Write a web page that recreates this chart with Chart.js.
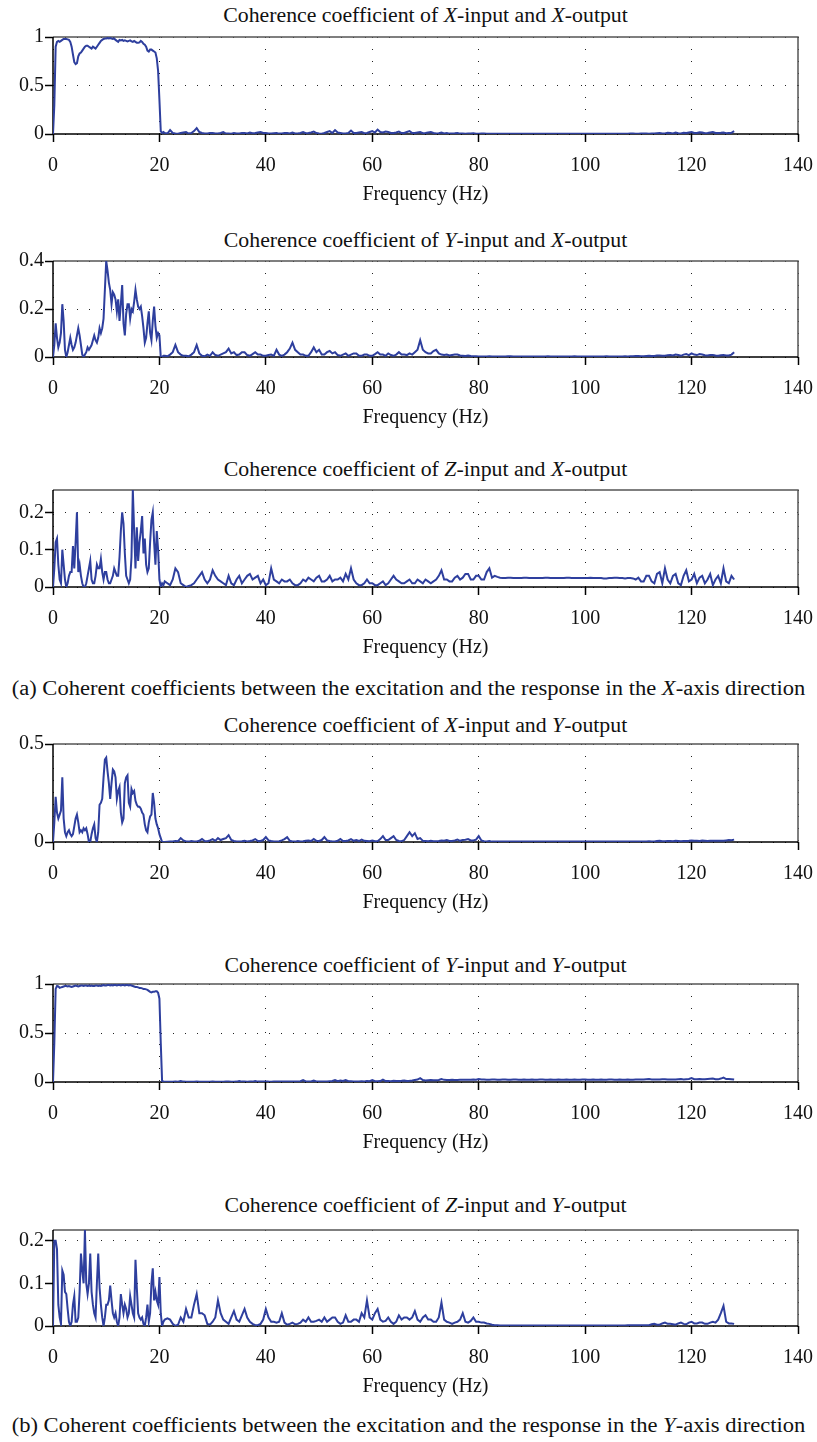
<!DOCTYPE html>
<html>
<head>
<meta charset="utf-8">
<script src="https://cdn.jsdelivr.net/npm/chart.js@4.4.1/dist/chart.umd.min.js"></script>
<style>
  body { margin: 0; background: #fff; }
  #page { position: relative; width: 817px; height: 1442px; overflow: hidden; font-family: "Liberation Serif", "DejaVu Serif", serif; color: #111; }
  canvas { position: absolute; left: 0; }
  .title { position: absolute; left: 53px; width: 745px; text-align: center; font-size: 20px; line-height: 24px; white-space: nowrap; transform: scaleX(1.09); transform-origin: 50% 50%; }
  .caption { position: absolute; left: 0; width: 817px; text-align: center; font-size: 20.5px; line-height: 24px; white-space: nowrap; transform: scaleX(1.1); transform-origin: 50% 50%; }
</style>
</head>
<body>
<div id="page"></div>
<script>
// frequency bins (Hz): 0.25 Hz below 21 Hz, 0.5 Hz above
const freqLow = [0, 0.25, 0.5, 0.75, 1, 1.25, 1.5, 1.75, 2, 2.25, 2.5, 2.75, 3, 3.25, 3.5, 3.75,
    4, 4.25, 4.5, 4.75, 5, 5.25, 5.5, 5.75, 6, 6.25, 6.5, 6.75, 7, 7.25, 7.5, 7.75,
    8, 8.25, 8.5, 8.75, 9, 9.25, 9.5, 9.75, 10, 10.25, 10.5, 10.75, 11, 11.25, 11.5, 11.75,
    12, 12.25, 12.5, 12.75, 13, 13.25, 13.5, 13.75, 14, 14.25, 14.5, 14.75, 15, 15.25, 15.5, 15.75,
    16, 16.25, 16.5, 16.75, 17, 17.25, 17.5, 17.75, 18, 18.25, 18.5, 18.75, 19, 19.25, 19.5, 19.75,
    20, 20.25, 20.5, 20.75];
const freqHigh = [21, 21.5, 22, 22.5, 23, 23.5, 24, 24.5, 25, 25.5, 26, 26.5, 27, 27.5, 28, 28.5, 29, 29.5, 30, 30.5,
    31, 31.5, 32, 32.5, 33, 33.5, 34, 34.5, 35, 35.5, 36, 36.5, 37, 37.5, 38, 38.5, 39, 39.5, 40, 40.5,
    41, 41.5, 42, 42.5, 43, 43.5, 44, 44.5, 45, 45.5, 46, 46.5, 47, 47.5, 48, 48.5, 49, 49.5, 50, 50.5,
    51, 51.5, 52, 52.5, 53, 53.5, 54, 54.5, 55, 55.5, 56, 56.5, 57, 57.5, 58, 58.5, 59, 59.5, 60, 60.5,
    61, 61.5, 62, 62.5, 63, 63.5, 64, 64.5, 65, 65.5, 66, 66.5, 67, 67.5, 68, 68.5, 69, 69.5, 70, 70.5,
    71, 71.5, 72, 72.5, 73, 73.5, 74, 74.5, 75, 75.5, 76, 76.5, 77, 77.5, 78, 78.5, 79, 79.5, 80, 80.5,
    81, 81.5, 82, 82.5, 83, 83.5, 84, 84.5, 85, 85.5, 86, 86.5, 87, 87.5, 88, 88.5, 89, 89.5, 90, 90.5,
    91, 91.5, 92, 92.5, 93, 93.5, 94, 94.5, 95, 95.5, 96, 96.5, 97, 97.5, 98, 98.5, 99, 99.5, 100, 100.5,
    101, 101.5, 102, 102.5, 103, 103.5, 104, 104.5, 105, 105.5, 106, 106.5, 107, 107.5, 108, 108.5, 109, 109.5, 110, 110.5,
    111, 111.5, 112, 112.5, 113, 113.5, 114, 114.5, 115, 115.5, 116, 116.5, 117, 117.5, 118, 118.5, 119, 119.5, 120, 120.5,
    121, 121.5, 122, 122.5, 123, 123.5, 124, 124.5, 125, 125.5, 126, 126.5, 127, 127.5, 128];

const xTicks = [0, 20, 40, 60, 80, 100, 120, 140];

// X-input / X-output
const xxLow = [0, 0.3, 0.9, 0.95, 0.96, 0.95, 0.96, 0.97,
    0.98, 0.98, 0.98, 0.975, 0.97, 0.95, 0.9, 0.82,
    0.74, 0.72, 0.73, 0.8, 0.83, 0.84, 0.86, 0.88,
    0.9, 0.91, 0.91, 0.9, 0.89, 0.88, 0.9, 0.89,
    0.88, 0.9, 0.92, 0.94, 0.96, 0.97, 0.98, 0.985,
    0.985, 0.99, 0.985, 0.99, 0.985, 0.98, 0.985, 0.97,
    0.96, 0.95, 0.97, 0.965, 0.97, 0.96, 0.965, 0.96,
    0.955, 0.96, 0.965, 0.955, 0.95, 0.96, 0.95, 0.94,
    0.94, 0.945, 0.96, 0.95, 0.93, 0.92, 0.9, 0.86,
    0.85, 0.87, 0.87, 0.86, 0.85, 0.84, 0.78, 0.65,
    0.35, 0.03, 0.01, 0.02];
const xxHigh = [0.01, 0.005, 0.04, 0.01, 0.005, 0.003, 0.01, 0.015, 0.02, 0.005, 0.01, 0.03, 0.06, 0.02, 0.01, 0.005, 0.005, 0.01, 0.01, 0.005,
    0.005, 0.01, 0.02, 0.005, 0.005, 0.003, 0.01, 0.005, 0.005, 0.01, 0.01, 0.005, 0.015, 0.008, 0.01, 0.015, 0.02, 0.01, 0.01, 0.005,
    0.005, 0.008, 0.01, 0.004, 0.005, 0.01, 0.01, 0.006, 0.015, 0.005, 0.005, 0.01, 0.02, 0.008, 0.01, 0.015, 0.025, 0.01, 0.005, 0.003,
    0.01, 0.02, 0.03, 0.01, 0.04, 0.015, 0.01, 0.005, 0.005, 0.01, 0.035, 0.01, 0.01, 0.015, 0.02, 0.008, 0.01, 0.02, 0.03, 0.015,
    0.045, 0.02, 0.015, 0.025, 0.02, 0.01, 0.01, 0.015, 0.025, 0.01, 0.01, 0.02, 0.03, 0.01, 0.01, 0.015, 0.02, 0.008, 0.01, 0.015,
    0.02, 0.01, 0.005, 0.008, 0.015, 0.006, 0.01, 0.004, 0.005, 0.007, 0.01, 0.004, 0.005, 0.003, 0.005, 0.004, 0.008, 0.003, 0.003, 0.004,
    0.005, 0.003, 0.003, 0.002, 0.002, 0.003, 0.003, 0.002, 0.002, 0.003, 0.003, 0.002, 0.002, 0.002, 0.002, 0.003, 0.003, 0.002, 0.002, 0.002,
    0.002, 0.003, 0.003, 0.002, 0.002, 0.002, 0.002, 0.003, 0.003, 0.002, 0.002, 0.002, 0.002, 0.003, 0.003, 0.002, 0.002, 0.002, 0.002, 0.003,
    0.003, 0.002, 0.002, 0.002, 0.002, 0.003, 0.003, 0.002, 0.002, 0.003, 0.003, 0.002, 0.002, 0.003, 0.003, 0.004, 0.004, 0.003, 0.003, 0.004,
    0.004, 0.005, 0.003, 0.006, 0.005, 0.008, 0.01, 0.006, 0.005, 0.012, 0.01, 0.006, 0.015, 0.008, 0.005, 0.012, 0.01, 0.015, 0.02, 0.01,
    0.01, 0.018, 0.015, 0.008, 0.01, 0.015, 0.02, 0.01, 0.01, 0.012, 0.015, 0.008, 0.01, 0.012, 0.03];

// Y-input / X-output
const yxLow = [0, 0.05, 0.14, 0.08, 0.04, 0.06, 0.1, 0.22,
    0.15, 0.03, 0.0, 0.02, 0.05, 0.08, 0.05, 0.03,
    0.04, 0.06, 0.09, 0.12, 0.09, 0.05, 0.01, 0.0,
    0.01, 0.02, 0.04, 0.03, 0.04, 0.05, 0.07, 0.09,
    0.07, 0.06, 0.08, 0.12, 0.1, 0.12, 0.16, 0.28,
    0.4, 0.36, 0.31, 0.28, 0.22, 0.27, 0.26, 0.24,
    0.19, 0.24, 0.15, 0.22, 0.3, 0.14, 0.09, 0.18,
    0.22, 0.22, 0.16, 0.2, 0.19, 0.23, 0.28, 0.24,
    0.21, 0.2, 0.21, 0.17, 0.12, 0.06, 0.08, 0.14,
    0.19, 0.1, 0.07, 0.15, 0.21, 0.13, 0.08, 0.1,
    0.09, 0.0, 0.0, 0.005];
const yxHigh = [0.005, 0.003, 0.01, 0.02, 0.05, 0.02, 0.01, 0.005, 0.005, 0.003, 0.01, 0.02, 0.05, 0.015, 0.005, 0.003, 0.01, 0.005, 0.02, 0.008,
    0.005, 0.01, 0.015, 0.02, 0.035, 0.015, 0.02, 0.008, 0.01, 0.02, 0.02, 0.008, 0.005, 0.012, 0.02, 0.01, 0.01, 0.005, 0.005, 0.008,
    0.01, 0.005, 0.03, 0.01, 0.005, 0.01, 0.02, 0.035, 0.06, 0.03, 0.02, 0.01, 0.01, 0.005, 0.005, 0.02, 0.04, 0.02, 0.03, 0.01,
    0.01, 0.02, 0.025, 0.015, 0.02, 0.008, 0.005, 0.01, 0.015, 0.005, 0.01, 0.015, 0.015, 0.005, 0.005, 0.01, 0.01, 0.005, 0.005, 0.012,
    0.02, 0.01, 0.01, 0.005, 0.015, 0.008, 0.005, 0.01, 0.02, 0.01, 0.01, 0.008, 0.015, 0.01, 0.02, 0.03, 0.07, 0.03, 0.02, 0.015,
    0.015, 0.025, 0.03, 0.015, 0.01, 0.008, 0.01, 0.006, 0.008, 0.01, 0.01, 0.006, 0.005, 0.004, 0.006, 0.004, 0.003, 0.003, 0.002, 0.002,
    0.002, 0.002, 0.003, 0.002, 0.002, 0.002, 0.002, 0.002, 0.002, 0.003, 0.003, 0.002, 0.002, 0.002, 0.002, 0.002, 0.002, 0.002, 0.002, 0.002,
    0.002, 0.002, 0.002, 0.002, 0.003, 0.002, 0.002, 0.002, 0.002, 0.002, 0.002, 0.002, 0.002, 0.002, 0.003, 0.002, 0.002, 0.002, 0.002, 0.002,
    0.002, 0.002, 0.002, 0.002, 0.002, 0.002, 0.003, 0.002, 0.002, 0.002, 0.002, 0.002, 0.002, 0.003, 0.002, 0.003, 0.003, 0.004, 0.004, 0.003,
    0.003, 0.004, 0.005, 0.004, 0.004, 0.006, 0.006, 0.005, 0.005, 0.007, 0.008, 0.006, 0.01, 0.008, 0.005, 0.01, 0.012, 0.008, 0.015, 0.01,
    0.008, 0.012, 0.01, 0.007, 0.006, 0.008, 0.008, 0.006, 0.005, 0.007, 0.008, 0.006, 0.006, 0.01, 0.02];

// Z-input / X-output
const zxLow = [0, 0.05, 0.12, 0.13, 0.06, 0.02, 0.01, 0.1,
    0.06, 0.02, 0.0, 0.01, 0.03, 0.04, 0.04, 0.11,
    0.05, 0.12, 0.2, 0.04, 0.06, 0.03, 0.01, 0.0,
    0.0, 0.01, 0.03, 0.05, 0.07, 0.02, 0.01, 0.01,
    0.03, 0.06, 0.05, 0.05, 0.075, 0.04, 0.02, 0.04,
    0.04, 0.02, 0.01, 0.01, 0.02, 0.03, 0.05, 0.04,
    0.03, 0.03, 0.08, 0.15, 0.2, 0.17, 0.09, 0.03,
    0.02, 0.01, 0.02, 0.08, 0.26, 0.15, 0.05, 0.16,
    0.07, 0.12, 0.15, 0.19, 0.09, 0.13, 0.06, 0.04,
    0.05, 0.12, 0.18, 0.2, 0.12, 0.06, 0.15, 0.1,
    0.02, 0.0, 0.01, 0.005];
const zxHigh = [0.015, 0.01, 0.005, 0.02, 0.05, 0.04, 0.01, 0.005, 0.0, 0.003, 0.005, 0.01, 0.02, 0.03, 0.04, 0.02, 0.01, 0.02, 0.045, 0.03,
    0.02, 0.015, 0.01, 0.005, 0.03, 0.01, 0.005, 0.02, 0.03, 0.01, 0.02, 0.03, 0.035, 0.02, 0.025, 0.03, 0.01, 0.02, 0.005, 0.01,
    0.05, 0.02, 0.015, 0.01, 0.02, 0.015, 0.015, 0.02, 0.01, 0.005, 0.005, 0.01, 0.02, 0.015, 0.025, 0.02, 0.015, 0.025, 0.03, 0.015,
    0.015, 0.02, 0.03, 0.015, 0.02, 0.02, 0.025, 0.015, 0.035, 0.02, 0.05, 0.02, 0.01, 0.005, 0.005, 0.01, 0.02, 0.01, 0.01, 0.005,
    0.005, 0.01, 0.015, 0.005, 0.01, 0.02, 0.03, 0.02, 0.015, 0.01, 0.01, 0.015, 0.02, 0.01, 0.01, 0.02, 0.015, 0.01, 0.02, 0.015,
    0.01, 0.015, 0.02, 0.03, 0.045, 0.02, 0.02, 0.015, 0.015, 0.025, 0.03, 0.02, 0.025, 0.035, 0.035, 0.02, 0.02, 0.03, 0.03, 0.02,
    0.02, 0.04, 0.05, 0.025, 0.03, 0.027, 0.025, 0.024, 0.024, 0.025, 0.025, 0.024, 0.024, 0.024, 0.024, 0.025, 0.025, 0.024, 0.024, 0.024,
    0.024, 0.024, 0.024, 0.025, 0.025, 0.024, 0.024, 0.024, 0.024, 0.024, 0.024, 0.025, 0.025, 0.024, 0.024, 0.024, 0.024, 0.024, 0.024, 0.024,
    0.025, 0.024, 0.024, 0.024, 0.024, 0.023, 0.023, 0.024, 0.024, 0.025, 0.025, 0.024, 0.024, 0.023, 0.024, 0.024, 0.023, 0.02, 0.025, 0.015,
    0.015, 0.03, 0.03, 0.015, 0.01, 0.035, 0.04, 0.01, 0.05, 0.02, 0.01, 0.03, 0.035, 0.01, 0.005, 0.03, 0.045, 0.015, 0.02, 0.035,
    0.01, 0.025, 0.03, 0.01, 0.02, 0.035, 0.005, 0.02, 0.03, 0.01, 0.05, 0.015, 0.01, 0.03, 0.02];

// X-input / Y-output
const xyLow = [0, 0.1, 0.23, 0.15, 0.12, 0.14, 0.16, 0.33,
    0.12, 0.05, 0.03, 0.05, 0.06, 0.04, 0.03, 0.04,
    0.08, 0.12, 0.14, 0.1, 0.05, 0.06, 0.05, 0.07,
    0.06, 0.07, 0.04, 0.0, 0.0, 0.04, 0.07, 0.09,
    0.02, 0.0, 0.05, 0.19, 0.2, 0.22, 0.33, 0.42,
    0.43, 0.36, 0.3, 0.22, 0.3, 0.37, 0.36, 0.33,
    0.22, 0.26, 0.28, 0.15, 0.1, 0.12, 0.3, 0.33,
    0.34, 0.2, 0.18, 0.27, 0.25, 0.26, 0.21, 0.19,
    0.18, 0.18, 0.17, 0.15, 0.14, 0.09, 0.06, 0.05,
    0.1, 0.13, 0.14, 0.25, 0.2, 0.12, 0.09, 0.07,
    0.04, 0.02, 0.0, 0.0];
const xyHigh = [0.0, 0.001, 0.002, 0.003, 0.005, 0.004, 0.02, 0.008, 0.003, 0.002, 0.005, 0.003, 0.003, 0.006, 0.015, 0.005, 0.004, 0.008, 0.015, 0.006,
    0.02, 0.01, 0.015, 0.02, 0.035, 0.01, 0.005, 0.003, 0.003, 0.004, 0.006, 0.003, 0.005, 0.008, 0.015, 0.005, 0.005, 0.01, 0.025, 0.008,
    0.005, 0.003, 0.003, 0.004, 0.008, 0.015, 0.025, 0.006, 0.003, 0.002, 0.005, 0.003, 0.004, 0.006, 0.008, 0.005, 0.015, 0.006, 0.005, 0.01,
    0.025, 0.008, 0.005, 0.003, 0.003, 0.006, 0.015, 0.005, 0.005, 0.008, 0.015, 0.006, 0.01, 0.005, 0.012, 0.006, 0.005, 0.004, 0.008, 0.004,
    0.004, 0.015, 0.03, 0.01, 0.01, 0.02, 0.03, 0.01, 0.005, 0.004, 0.01, 0.03, 0.05, 0.03, 0.045, 0.015, 0.02, 0.006, 0.005, 0.004,
    0.006, 0.004, 0.004, 0.005, 0.008, 0.006, 0.01, 0.005, 0.005, 0.008, 0.012, 0.006, 0.01, 0.012, 0.015, 0.008, 0.008, 0.012, 0.03, 0.008,
    0.004, 0.003, 0.005, 0.002, 0.002, 0.002, 0.002, 0.002, 0.002, 0.002, 0.002, 0.003, 0.003, 0.002, 0.002, 0.002, 0.002, 0.002, 0.002, 0.002,
    0.002, 0.002, 0.002, 0.002, 0.002, 0.002, 0.002, 0.002, 0.002, 0.002, 0.002, 0.002, 0.002, 0.002, 0.002, 0.002, 0.002, 0.002, 0.002, 0.002,
    0.002, 0.002, 0.002, 0.002, 0.002, 0.002, 0.002, 0.002, 0.002, 0.002, 0.002, 0.002, 0.002, 0.002, 0.002, 0.002, 0.002, 0.002, 0.002, 0.003,
    0.003, 0.003, 0.004, 0.003, 0.003, 0.005, 0.006, 0.004, 0.004, 0.005, 0.005, 0.004, 0.006, 0.005, 0.004, 0.005, 0.005, 0.006, 0.008, 0.006,
    0.006, 0.005, 0.007, 0.006, 0.005, 0.006, 0.006, 0.007, 0.007, 0.006, 0.006, 0.008, 0.01, 0.009, 0.012];

// Y-input / Y-output
const yyLow = [0, 0.4, 0.95, 0.98, 0.975, 0.96, 0.965, 0.97,
    0.975, 0.98, 0.98, 0.975, 0.98, 0.975, 0.97, 0.975,
    0.98, 0.985, 0.98, 0.975, 0.98, 0.985, 0.985, 0.98,
    0.985, 0.985, 0.98, 0.985, 0.98, 0.985, 0.98, 0.98,
    0.985, 0.985, 0.98, 0.985, 0.98, 0.985, 0.99, 0.985,
    0.985, 0.99, 0.99, 0.985, 0.99, 0.985, 0.99, 0.99,
    0.985, 0.99, 0.99, 0.985, 0.99, 0.99, 0.985, 0.99,
    0.99, 0.985, 0.99, 0.985, 0.98, 0.975, 0.97, 0.97,
    0.965, 0.96, 0.96, 0.955, 0.95, 0.95, 0.945, 0.94,
    0.93, 0.92, 0.915, 0.92, 0.92, 0.925, 0.925, 0.91,
    0.85, 0.4, 0.01, 0.005];
const yyHigh = [0.003, 0.002, 0.002, 0.003, 0.004, 0.003, 0.01, 0.004, 0.003, 0.002, 0.002, 0.003, 0.004, 0.002, 0.003, 0.002, 0.002, 0.003, 0.004, 0.003,
    0.003, 0.002, 0.003, 0.004, 0.005, 0.003, 0.003, 0.004, 0.01, 0.004, 0.004, 0.003, 0.005, 0.004, 0.01, 0.004, 0.004, 0.005, 0.006, 0.004,
    0.003, 0.004, 0.005, 0.004, 0.004, 0.005, 0.005, 0.004, 0.006, 0.005, 0.005, 0.008, 0.02, 0.006, 0.006, 0.005, 0.015, 0.006, 0.005, 0.006,
    0.006, 0.005, 0.008, 0.01, 0.02, 0.008, 0.015, 0.01, 0.02, 0.008, 0.008, 0.006, 0.006, 0.005, 0.008, 0.006, 0.01, 0.008, 0.02, 0.008,
    0.008, 0.01, 0.025, 0.01, 0.01, 0.008, 0.012, 0.01, 0.01, 0.012, 0.015, 0.01, 0.012, 0.015, 0.02, 0.025, 0.04, 0.02, 0.015, 0.018,
    0.02, 0.018, 0.018, 0.02, 0.03, 0.022, 0.02, 0.021, 0.022, 0.02, 0.02, 0.022, 0.024, 0.022, 0.022, 0.024, 0.025, 0.024, 0.03, 0.025,
    0.025, 0.024, 0.024, 0.025, 0.026, 0.024, 0.024, 0.025, 0.025, 0.024, 0.024, 0.025, 0.025, 0.024, 0.024, 0.025, 0.024, 0.024, 0.025, 0.024,
    0.024, 0.025, 0.025, 0.024, 0.024, 0.025, 0.024, 0.024, 0.025, 0.024, 0.024, 0.025, 0.024, 0.024, 0.025, 0.024, 0.024, 0.025, 0.025, 0.024,
    0.024, 0.025, 0.024, 0.024, 0.025, 0.024, 0.024, 0.025, 0.025, 0.024, 0.024, 0.025, 0.024, 0.024, 0.025, 0.024, 0.024, 0.025, 0.025, 0.026,
    0.026, 0.028, 0.03, 0.026, 0.026, 0.025, 0.025, 0.027, 0.028, 0.025, 0.025, 0.026, 0.026, 0.028, 0.03, 0.026, 0.028, 0.03, 0.04, 0.028,
    0.027, 0.03, 0.028, 0.027, 0.03, 0.033, 0.035, 0.028, 0.027, 0.035, 0.045, 0.03, 0.03, 0.028, 0.025];

// Z-input / Y-output
const zyLow = [0.0, 0.2, 0.2, 0.18, 0.05, 0.02, 0.005, 0.13,
    0.12, 0.08, 0.075, 0.04, 0.01, 0.0, 0.01, 0.05,
    0.07, 0.01, 0.01, 0.02, 0.08, 0.17, 0.13, 0.1,
    0.225, 0.1, 0.075, 0.1, 0.17, 0.08, 0.05, 0.03,
    0.02, 0.1, 0.17, 0.09, 0.05, 0.02, 0.0, 0.02,
    0.05, 0.05, 0.06, 0.095, 0.06, 0.03, 0.02, 0.03,
    0.01, 0.0, 0.02, 0.075, 0.05, 0.03, 0.05, 0.04,
    0.02, 0.03, 0.07, 0.05, 0.03, 0.02, 0.155, 0.09,
    0.03, 0.02, 0.015, 0.02, 0.005, 0.0, 0.02, 0.05,
    0.01, 0.03, 0.1, 0.135, 0.06, 0.08, 0.06, 0.05,
    0.115, 0.03, 0.0, 0.01];
const zyHigh = [0.015, 0.018, 0.015, 0.005, 0.0, 0.003, 0.02, 0.01, 0.04, 0.02, 0.02, 0.05, 0.075, 0.03, 0.03, 0.025, 0.005, 0.003, 0.01, 0.02,
    0.06, 0.03, 0.015, 0.01, 0.005, 0.02, 0.035, 0.015, 0.01, 0.025, 0.04, 0.02, 0.01, 0.005, 0.002, 0.002, 0.005, 0.015, 0.04, 0.02,
    0.01, 0.01, 0.008, 0.01, 0.03, 0.008, 0.003, 0.005, 0.008, 0.004, 0.005, 0.008, 0.015, 0.01, 0.02, 0.01, 0.01, 0.012, 0.015, 0.01,
    0.02, 0.01, 0.015, 0.02, 0.02, 0.01, 0.005, 0.008, 0.025, 0.01, 0.01, 0.015, 0.015, 0.01, 0.03, 0.02, 0.06, 0.02, 0.015, 0.03,
    0.04, 0.015, 0.01, 0.012, 0.02, 0.01, 0.005, 0.01, 0.025, 0.015, 0.02, 0.02, 0.015, 0.02, 0.035, 0.015, 0.01, 0.02, 0.025, 0.015,
    0.015, 0.01, 0.01, 0.02, 0.055, 0.015, 0.01, 0.008, 0.005, 0.008, 0.01, 0.015, 0.03, 0.01, 0.008, 0.012, 0.02, 0.01, 0.01, 0.008,
    0.008, 0.006, 0.005, 0.003, 0.002, 0.002, 0.001, 0.001, 0.001, 0.001, 0.001, 0.001, 0.001, 0.001, 0.001, 0.001, 0.001, 0.001, 0.001, 0.001,
    0.001, 0.001, 0.001, 0.001, 0.001, 0.001, 0.001, 0.001, 0.001, 0.001, 0.001, 0.001, 0.001, 0.001, 0.001, 0.001, 0.001, 0.001, 0.001, 0.001,
    0.001, 0.001, 0.001, 0.001, 0.001, 0.001, 0.001, 0.001, 0.001, 0.001, 0.001, 0.001, 0.001, 0.001, 0.002, 0.002, 0.002, 0.002, 0.002, 0.002,
    0.002, 0.002, 0.002, 0.004, 0.005, 0.003, 0.003, 0.006, 0.008, 0.005, 0.005, 0.004, 0.003, 0.006, 0.008, 0.005, 0.004, 0.008, 0.01, 0.006,
    0.006, 0.008, 0.008, 0.005, 0.005, 0.008, 0.01, 0.008, 0.015, 0.03, 0.047, 0.01, 0.006, 0.006, 0.005];

const lineColor = "#2e3f9e";
const FONT = '"Liberation Serif", "DejaVu Serif", serif';

// one entry per panel; top/bottom = plot area in page pixels
const panels = [
    { title: "Coherence coefficient of <i>X</i>-input and <i>X</i>-output", low: xxLow, high: xxHigh,
      yMax: 1, yTicks: [0, 0.5, 1], top: 37, bottom: 134, titleY: 15 },
    { title: "Coherence coefficient of <i>Y</i>-input and <i>X</i>-output", low: yxLow, high: yxHigh,
      yMax: 0.4, yTicks: [0, 0.2, 0.4], top: 261, bottom: 357, titleY: 240 },
    { title: "Coherence coefficient of <i>Z</i>-input and <i>X</i>-output", low: zxLow, high: zxHigh,
      yMax: 0.26, yTicks: [0, 0.1, 0.2], top: 490, bottom: 587, titleY: 469 },
    { title: "Coherence coefficient of <i>X</i>-input and <i>Y</i>-output", low: xyLow, high: xyHigh,
      yMax: 0.5, yTicks: [0, 0.5], top: 744, bottom: 842, titleY: 725 },
    { title: "Coherence coefficient of <i>Y</i>-input and <i>Y</i>-output", low: yyLow, high: yyHigh,
      yMax: 1, yTicks: [0, 0.5, 1], top: 984, bottom: 1082, titleY: 965 },
    { title: "Coherence coefficient of <i>Z</i>-input and <i>Y</i>-output", low: zyLow, high: zyHigh,
      yMax: 0.225, yTicks: [0, 0.1, 0.2], top: 1230, bottom: 1326, titleY: 1205 },
];

const captions = [
    { text: "(a) Coherent coefficients between the excitation and the response in the <i>X</i>-axis direction", y: 688 },
    { text: "(b) Coherent coefficients between the excitation and the response in the <i>Y</i>-axis direction", y: 1425 },
];

const PAD_TOP = 14;
const X_AXIS_H = 73;
const Y_AXIS_W = 53;

// box around the plot: black left/bottom axes, grey top/right
const framePlugin = {
    id: "frame",
    beforeDatasetsDraw(chart) {
        const { ctx, chartArea: a } = chart;
        ctx.save();
        ctx.lineWidth = 1.5;
        ctx.strokeStyle = "#555";
        ctx.beginPath();
        ctx.moveTo(a.left, a.top);
        ctx.lineTo(a.right, a.top);
        ctx.lineTo(a.right, a.bottom);
        ctx.stroke();
        ctx.strokeStyle = "#000";
        ctx.beginPath();
        ctx.moveTo(a.left, a.top);
        ctx.lineTo(a.left, a.bottom);
        ctx.lineTo(a.right, a.bottom);
        ctx.stroke();
        ctx.restore();
    },
};

const page = document.getElementById("page");

panels.forEach((p) => {
    const t = document.createElement("div");
    t.className = "title";
    t.style.top = (p.titleY - 12) + "px";
    t.innerHTML = p.title;
    page.appendChild(t);

    const canvas = document.createElement("canvas");
    const h = PAD_TOP + (p.bottom - p.top) + X_AXIS_H;
    canvas.width = 817;
    canvas.height = h;
    canvas.style.top = (p.top - PAD_TOP) + "px";
    page.appendChild(canvas);

    const values = p.low.concat(p.high);
    const points = freqLow.concat(freqHigh).map((f, i) => ({ x: f, y: values[i] }));

    const gridOpts = { color: "#222", lineWidth: 1, tickLength: 8, tickColor: "#000", tickWidth: 1.5, tickBorderDash: [] };

    new Chart(canvas.getContext("2d"), {
        type: "line",
        data: {
            datasets: [{
                data: points,
                borderColor: lineColor,
                borderWidth: 2,
                pointRadius: 0,
                tension: 0,
                fill: false,
            }],
        },
        options: {
            responsive: false,
            animation: false,
            layout: { padding: { top: PAD_TOP, right: 19, left: 0, bottom: 0 } },
            plugins: { legend: { display: false }, tooltip: { enabled: false } },
            scales: {
                x: {
                    type: "linear",
                    min: 0,
                    max: 140,
                    afterBuildTicks: (s) => { s.ticks = xTicks.map((v) => ({ value: v })); },
                    // fixed height; label overflow is covered by the page margins
                    afterFit: (s) => { s.height = X_AXIS_H; s.paddingLeft = 0; s.paddingRight = 0; },
                    grid: gridOpts,
                    border: { display: false, dash: [1, 11] },
                    ticks: { font: { family: FONT, size: 20 }, color: "#111", padding: 12, maxRotation: 0 },
                    title: { display: true, text: "Frequency (Hz)", font: { family: FONT, size: 20 }, color: "#111", padding: { top: 0, bottom: 0 } },
                },
                y: {
                    min: 0,
                    max: p.yMax,
                    afterBuildTicks: (s) => { s.ticks = p.yTicks.map((v) => ({ value: v })); },
                    afterFit: (s) => { s.width = Y_AXIS_W; },
                    grid: gridOpts,
                    border: { display: false, dash: [1, 11] },
                    ticks: { font: { family: FONT, size: 20 }, color: "#111", padding: 1, callback: (v) => String(v) },
                },
            },
        },
        plugins: [framePlugin],
    });
});

captions.forEach((c) => {
    const d = document.createElement("div");
    d.className = "caption";
    d.style.top = (c.y - 12) + "px";
    d.innerHTML = c.text;
    page.appendChild(d);
});
</script>
</body>
</html>
